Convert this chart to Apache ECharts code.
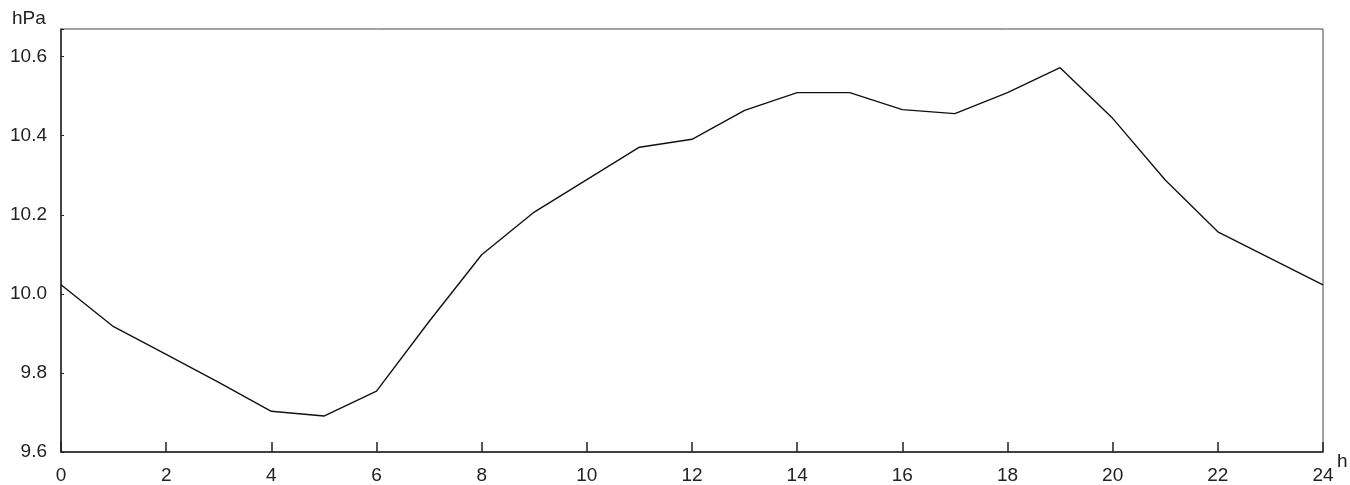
<!DOCTYPE html>
<html>
<head>
<meta charset="utf-8">
<script src="https://cdn.jsdelivr.net/npm/echarts@6/dist/echarts.min.js"></script>
<style>html,body{margin:0;padding:0;background:#fff;}#c{width:1350px;height:485px;}</style>
</head>
<body>
<div id="c"></div>
<script>
var hours = [0,1,2,3,4,5,6,7,8,9,10,11,12,13,14,15,16,17,18,19,20,21,22,23,24];
var pressure = [10.023,9.917,9.847,9.776,9.703,9.691,9.754,9.93,10.099,10.207,10.289,10.371,10.391,10.464,10.509,10.509,10.466,10.456,10.509,10.572,10.444,10.288,10.157,10.09,10.023];
var yTicks = [9.6,9.8,10.0,10.2,10.4,10.6];
var xTicks = [0,2,4,6,8,10,12,14,16,18,20,22,24];

var FONT = '"Liberation Sans Narrow", "Liberation Sans", sans-serif';
var chart = echarts.init(document.getElementById('c'));
var txt = {color:'#222', fontFamily:FONT, fontSize:19};
chart.setOption({
  animation:false,
  backgroundColor:'#fff',
  grid:{left:61,right:27,top:29,bottom:32,show:true,borderColor:'#444',borderWidth:1,backgroundColor:'transparent'},
  xAxis:{type:'value',min:0,max:24,interval:2,
    axisLine:{show:true,lineStyle:{color:'#222',width:1.5}},
    axisTick:{show:true,inside:true,length:10,lineStyle:{color:'#222',width:1.5}},
    splitLine:{show:false},
    axisLabel:Object.assign({margin:14,formatter:function(v){return xTicks.indexOf(v)>=0?String(v):'';}},txt)
  },
  yAxis:{type:'value',min:9.6,max:10.67,interval:0.2,
    axisLine:{show:true,lineStyle:{color:'#222',width:1.5}},
    axisTick:{show:true,inside:true,length:3,lineStyle:{color:'#222'}},
    splitLine:{show:false},
    axisLabel:Object.assign({margin:14,formatter:function(v){
      for(var i=0;i<yTicks.length;i++){if(Math.abs(v-yTicks[i])<1e-6)return yTicks[i].toFixed(1);}return '';}},txt)
  },
  graphic:[
    {type:'text',left:12,top:9,style:{text:'hPa',fill:'#222',font:'19px ' + FONT}},
    {type:'text',left:1337,top:452,style:{text:'h',fill:'#222',font:'19px ' + FONT}}
  ],
  series:[{type:'line',data:hours.map(function(h,i){return [h,pressure[i]];}),
    showSymbol:false,symbol:'none',lineStyle:{color:'#111',width:1.4}}]
});
</script>
</body>
</html>
